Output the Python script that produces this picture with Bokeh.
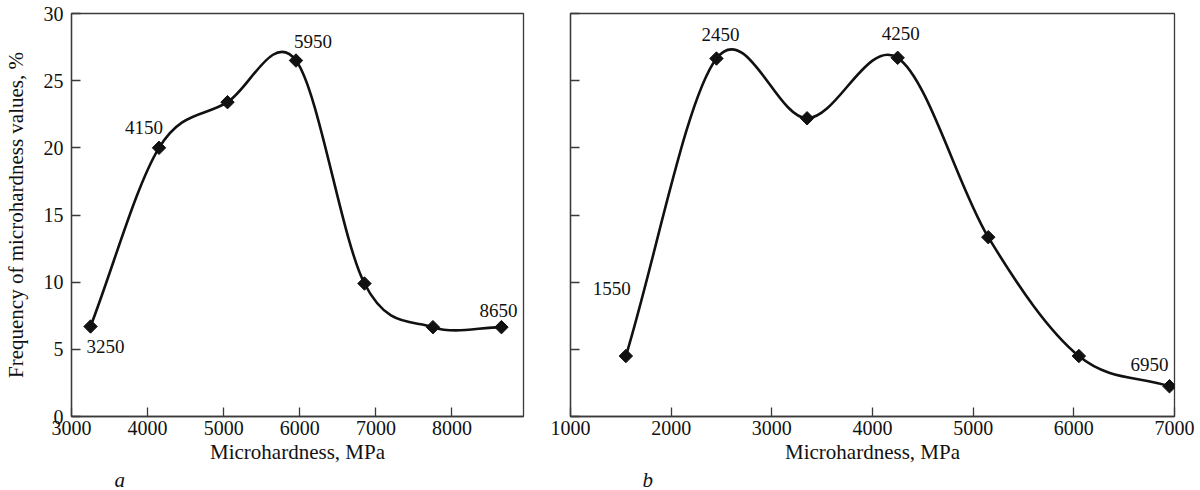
import numpy as np
from bokeh.plotting import figure
from bokeh.models import Range1d, FixedTicker, Title, ColumnDataSource
from bokeh.layouts import row
from bokeh.embed import file_html
from bokeh.resources import INLINE
from bokeh.core.properties import value

# ---- data ----
a_hardness = [3250, 4150, 5050, 5950, 6850, 7750, 8650]
a_freq = [6.7, 20.0, 23.4, 26.5, 9.9, 6.65, 6.65]
a_labels = ["3250", "4150", "", "5950", "", "", "8650"]

b_hardness = [1550, 2450, 3350, 4250, 5150, 6050, 6950]
b_freq = [4.5, 26.65, 22.2, 26.7, 13.35, 4.5, 2.25]
b_labels = ["1550", "2450", "", "4250", "", "", "6950"]

y_ticks = [0, 5, 10, 15, 20, 25, 30]
a_x_ticks = [3000, 4000, 5000, 6000, 7000, 8000]
b_x_ticks = [1000, 2000, 3000, 4000, 5000, 6000, 7000]

x_title = "Microhardness, MPa"
y_title = "Frequency of microhardness values, %"

# ---- styling / label placement (pixels) ----
a_lab_dx = [15, -15, 0, 17, 0, 0, -3]
a_lab_dy = [20, -20, 0, -19, 0, 0, -17]
b_lab_dx = [-14, 4, 0, 3, 0, 0, -20]
b_lab_dy = [-68, -24, 0, -24, 0, 0, -22]

FONT = "Times New Roman"
INK = "#111111"
FRAME = "#3a3a3a"
H = 490


def catmull_rom(xs, ys):
    x = np.asarray(xs, float)
    y = np.asarray(ys, float)
    n = len(x)
    xp = np.concatenate([[2 * x[0] - x[1]], x, [2 * x[-1] - x[-2]]])
    yp = np.concatenate([[2 * y[0] - y[1]], y, [2 * y[-1] - y[-2]]])
    cx0 = xp[1:n] + (xp[2:n + 1] - xp[0:n - 1]) / 6
    cy0 = yp[1:n] + (yp[2:n + 1] - yp[0:n - 1]) / 6
    cx1 = xp[2:n + 1] - (xp[3:n + 2] - xp[1:n]) / 6
    cy1 = yp[2:n + 1] - (yp[3:n + 2] - yp[1:n]) / 6
    return dict(x0=x[:-1], y0=y[:-1], x1=x[1:], y1=y[1:],
                cx0=cx0, cy0=cy0, cx1=cx1, cy1=cy1)


def make_panel(xs, ys, labels, dx, dy, xr, xticks, width, mb_left, mb_right,
               panel_letter, letter_dx, show_ylabels):
    p = figure(width=width, height=H, x_range=Range1d(*xr), y_range=Range1d(0, 30),
               output_backend="svg", toolbar_location=None,
               min_border_left=mb_left, min_border_right=mb_right,
               min_border_top=13, min_border_bottom=74,
               background_fill_color="white", border_fill_color="white")
    p.grid.visible = False
    p.outline_line_color = FRAME
    p.outline_line_width = 1.3

    for ax in (p.xaxis[0], p.yaxis[0]):
        ax.axis_line_color = FRAME
        ax.axis_line_width = 1.3
        ax.major_tick_line_color = FRAME
        ax.major_tick_line_width = 1.3
        ax.major_tick_in = 9
        ax.major_tick_out = 0
        ax.minor_tick_line_color = None
        ax.major_label_text_font = FONT
        ax.major_label_text_font_size = "20px"
        ax.major_label_text_color = INK
        ax.axis_label_text_font = FONT
        ax.axis_label_text_font_size = "21px"
        ax.axis_label_text_font_style = "normal"
        ax.axis_label_text_color = INK

    p.xaxis.ticker = FixedTicker(ticks=xticks)
    p.xaxis.major_label_standoff = 4
    p.xaxis.axis_label = x_title
    p.xaxis.axis_label_standoff = 2

    p.yaxis.ticker = FixedTicker(ticks=y_ticks)
    p.yaxis.major_label_standoff = 8
    if show_ylabels:
        p.yaxis.axis_label = y_title
        p.yaxis.axis_label_standoff = 13
    else:
        p.yaxis.major_label_overrides = {t: "" for t in y_ticks}

    src = ColumnDataSource(catmull_rom(xs, ys))
    p.bezier(x0="x0", y0="y0", x1="x1", y1="y1", cx0="cx0", cy0="cy0",
             cx1="cx1", cy1="cy1", source=src, line_color=INK, line_width=2.6)
    p.scatter(xs, ys, marker="square", angle=np.pi / 4, size=9.5,
              fill_color=INK, line_color=INK)

    idx = [i for i, t in enumerate(labels) if t]
    lab = ColumnDataSource(dict(x=[xs[i] for i in idx], y=[ys[i] for i in idx],
                                t=[labels[i] for i in idx],
                                dx=[dx[i] for i in idx], dy=[dy[i] for i in idx]))
    p.text(x="x", y="y", text="t", x_offset="dx", y_offset="dy", source=lab,
           text_font=value(FONT), text_font_size="19px", text_color=INK,
           text_align="center", text_baseline="middle")

    p.add_layout(Title(text=panel_letter, align="left", offset=letter_dx,
                       standoff=-2, text_font=FONT, text_font_size="21px",
                       text_font_style="italic", text_color=INK), "below")
    return p


pa = make_panel(a_hardness, a_freq, a_labels, a_lab_dx, a_lab_dy, (3000, 8940),
                a_x_ticks, 546, 69, 23, "a", 43, True)
pb = make_panel(b_hardness, b_freq, b_labels, b_lab_dx, b_lab_dy, (1000, 7000),
                b_x_ticks, 654, 24, 26, "b", 72, False)

layout = row(pa, pb)
open("out.html", "w").write(file_html(layout, INLINE))
